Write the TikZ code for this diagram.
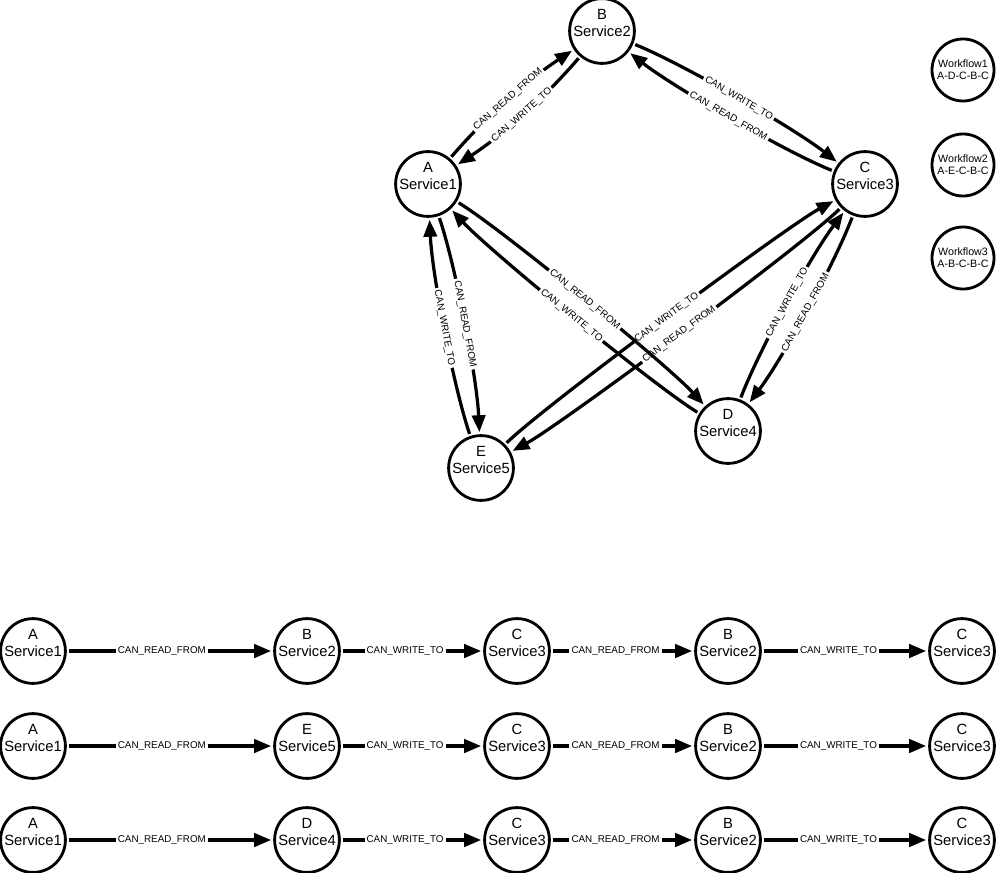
\documentclass[tikz,border=0pt]{standalone}
\usepackage{fontspec}
\setmainfont{Liberation Sans}
\usetikzlibrary{positioning, arrows.meta}

\begin{document}
\begin{tikzpicture}[x=0.025cm, y=-0.025cm,
    svc/.style={circle, draw, line width=2pt, minimum size=1.62cm, inner sep=0pt, outer sep=2.5pt,
        align=center, font=\fontsize{10.5}{12}\selectfont, text height=7.5pt, text depth=0pt},
    flow/.style={circle, draw, line width=2pt, minimum size=1.55cm, inner sep=0pt,
        align=center, font=\fontsize{7.6}{8.4}\selectfont},
    rel/.style={-{Triangle[length=12pt, width=9.5pt]}, line width=2.3pt},
    lbl/.style={fill=white, inner xsep=1.5pt, inner ysep=0.6pt, font=\fontsize{7}{8}\selectfont}]
    \useasboundingbox (0,0) rectangle (999,873);

    % Grafo dei servizi
    \node[svc] (A) at (428,184) {A\\Service1};
    \node[svc] (B) at (602,31) {B\\Service2};
    \node[svc] (C) at (865,184) {C\\Service3};
    \node[svc] (D) at (728,431) {D\\Service4};
    \node[svc] (E) at (481,468) {E\\Service5};

    % Workflow
    \node[flow] (w1) at (963,70) {Workflow1\\A-D-C-B-C};
    \node[flow] (w2) at (963,165) {Workflow2\\A-E-C-B-C};
    \node[flow] (w3) at (963,258) {Workflow3\\A-B-C-B-C};

    % Relazioni (coppie in versi opposti)
    \draw[rel] (A) to[bend left=8, looseness=0.84] node[lbl, sloped] {CAN\_READ\_FROM} (B);
    \draw[rel] (B) to[bend left=8, looseness=0.84] node[lbl, sloped] {CAN\_WRITE\_TO} (A);
    \draw[rel] (B) to[bend left=8, looseness=0.58] node[lbl, sloped] {CAN\_WRITE\_TO} (C);
    \draw[rel] (C) to[bend left=8, looseness=0.58] node[lbl, sloped] {CAN\_READ\_FROM} (B);
    \draw[rel] (A) to[bend left=8, looseness=0.62] node[lbl, sloped] {CAN\_READ\_FROM} (E);
    \draw[rel] (E) to[bend left=8, looseness=0.62] node[lbl, sloped] {CAN\_WRITE\_TO} (A);
    \draw[rel] (E) to[bend left=8, looseness=0.33] node[lbl, sloped] {CAN\_WRITE\_TO} (C);
    \draw[rel] (C) to[bend left=8, looseness=0.33] node[lbl, sloped] {CAN\_READ\_FROM} (E);
    \draw[rel] (A) to[bend left=8, looseness=0.42] node[lbl, sloped] {CAN\_READ\_FROM} (D);
    \draw[rel] (D) to[bend left=8, looseness=0.42] node[lbl, sloped] {CAN\_WRITE\_TO} (A);
    \draw[rel] (D) to[bend left=8, looseness=0.64] node[lbl, sloped] {CAN\_WRITE\_TO} (C);
    \draw[rel] (C) to[bend left=8, looseness=0.64] node[lbl, sloped] {CAN\_READ\_FROM} (D);

    % Percorsi dei tre workflow
    \foreach \r/\y/\m/\s in {1/651/B/2, 2/746/E/5, 3/840/D/4} {
        \node[svc] (r\r a) at (33,\y) {A\\Service1};
        \node[svc] (r\r b) at (307,\y) {\m\\Service\s};
        \node[svc] (r\r c) at (517,\y) {C\\Service3};
        \node[svc] (r\r d) at (728,\y) {B\\Service2};
        \node[svc] (r\r e) at (962,\y) {C\\Service3};
        \draw[rel] (r\r a) -- node[lbl, pos=0.46] {CAN\_READ\_FROM} (r\r b);
        \draw[rel] (r\r b) -- node[lbl, pos=0.45] {CAN\_WRITE\_TO} (r\r c);
        \draw[rel] (r\r c) -- node[lbl, pos=0.45] {CAN\_READ\_FROM} (r\r d);
        \draw[rel] (r\r d) -- node[lbl, pos=0.46] {CAN\_WRITE\_TO} (r\r e);
    }
\end{tikzpicture}
\end{document}
